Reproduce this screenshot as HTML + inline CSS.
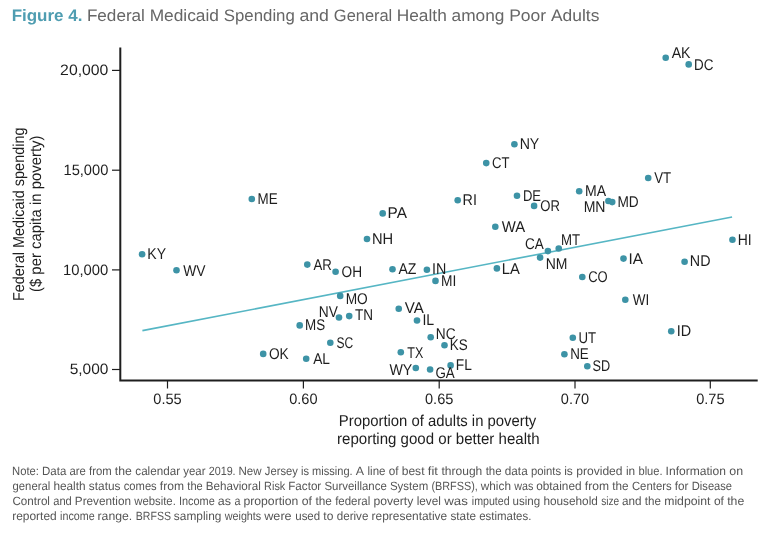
<!DOCTYPE html>
<html><head><meta charset="utf-8"><style>
html,body{margin:0;padding:0;background:#fff;}
svg{display:block;font-family:"Liberation Sans",sans-serif;will-change:transform;text-rendering:geometricPrecision;}
</style></head><body>
<svg width="768" height="534" viewBox="0 0 768 534">

<text x="11.66" y="20.80" font-size="16.6" textLength="70.75" lengthAdjust="spacingAndGlyphs" font-weight="bold" fill="#4f9db1">Figure 4.</text>
<g font-size="16.6" fill="#666"><text x="86.90" y="20.8" textLength="58.04" lengthAdjust="spacingAndGlyphs">Federal</text>
<text x="149.68" y="20.8" textLength="69.32" lengthAdjust="spacingAndGlyphs">Medicaid</text>
<text x="223.84" y="20.8" textLength="70.98" lengthAdjust="spacingAndGlyphs">Spending</text>
<text x="299.45" y="20.8" textLength="29.46" lengthAdjust="spacingAndGlyphs">and</text>
<text x="333.87" y="20.8" textLength="58.42" lengthAdjust="spacingAndGlyphs">General</text>
<text x="396.78" y="20.8" textLength="49.98" lengthAdjust="spacingAndGlyphs">Health</text>
<text x="451.57" y="20.8" textLength="52.82" lengthAdjust="spacingAndGlyphs">among</text>
<text x="509.17" y="20.8" textLength="36.94" lengthAdjust="spacingAndGlyphs">Poor</text>
<text x="550.97" y="20.8" textLength="48.41" lengthAdjust="spacingAndGlyphs">Adults</text></g>
<g stroke="#1e1e1e" stroke-width="1.2" fill="none">
<path d="M120.3 47.5 V380.4 H757.7" stroke-width="2"/>
<line x1="167.5" y1="380" x2="167.5" y2="388.5"/>
<line x1="303.4" y1="380" x2="303.4" y2="388.5"/>
<line x1="439.2" y1="380" x2="439.2" y2="388.5"/>
<line x1="575.0" y1="380" x2="575.0" y2="388.5"/>
<line x1="710.3" y1="380" x2="710.3" y2="388.5"/>
<line x1="112" y1="70.4" x2="120" y2="70.4"/>
<line x1="112" y1="170.2" x2="120" y2="170.2"/>
<line x1="112" y1="269.9" x2="120" y2="269.9"/>
<line x1="112" y1="369.5" x2="120" y2="369.5"/>
</g>
<g font-size="14.2" fill="#1e1e1e">
<text x="153.33" y="403.70" font-size="15" textLength="28.38" lengthAdjust="spacingAndGlyphs" >0.55</text>
<text x="289.23" y="403.70" font-size="15" textLength="28.34" lengthAdjust="spacingAndGlyphs" >0.60</text>
<text x="425.03" y="403.70" font-size="15" textLength="28.38" lengthAdjust="spacingAndGlyphs" >0.65</text>
<text x="560.83" y="403.70" font-size="15" textLength="28.34" lengthAdjust="spacingAndGlyphs" >0.70</text>
<text x="696.13" y="403.70" font-size="15" textLength="28.38" lengthAdjust="spacingAndGlyphs" >0.75</text>
<text x="60.11" y="75.30" font-size="15" textLength="48.31" lengthAdjust="spacingAndGlyphs" >20,000</text>
<text x="63.48" y="175.10" font-size="15" textLength="44.89" lengthAdjust="spacingAndGlyphs" >15,000</text>
<text x="62.97" y="274.80" font-size="15" textLength="45.41" lengthAdjust="spacingAndGlyphs" >10,000</text>
<text x="69.68" y="374.40" font-size="15" textLength="38.72" lengthAdjust="spacingAndGlyphs" >5,000</text>
</g>
<line x1="142.4" y1="330.6" x2="732.1" y2="217.0" stroke="#56b6c4" stroke-width="1.6"/>
<g fill="#3d93a6">
<circle cx="665.7" cy="57.8" r="3.3"/>
<circle cx="688.7" cy="64.4" r="3.3"/>
<circle cx="514.4" cy="144.2" r="3.3"/>
<circle cx="486.25" cy="163.1" r="3.3"/>
<circle cx="648.2" cy="178.0" r="3.3"/>
<circle cx="579.2" cy="191.3" r="3.3"/>
<circle cx="517.0" cy="195.7" r="3.3"/>
<circle cx="251.8" cy="199.0" r="3.3"/>
<circle cx="457.7" cy="200.2" r="3.3"/>
<circle cx="608.4" cy="201.0" r="3.3"/>
<circle cx="612.2" cy="202.1" r="3.3"/>
<circle cx="534.1" cy="205.9" r="3.3"/>
<circle cx="382.7" cy="213.4" r="3.3"/>
<circle cx="495.3" cy="226.8" r="3.3"/>
<circle cx="367.0" cy="239.0" r="3.3"/>
<circle cx="732.45" cy="239.8" r="3.3"/>
<circle cx="558.75" cy="248.5" r="3.3"/>
<circle cx="547.9" cy="251.1" r="3.3"/>
<circle cx="142.1" cy="254.2" r="3.3"/>
<circle cx="540.1" cy="257.6" r="3.3"/>
<circle cx="623.5" cy="258.6" r="3.3"/>
<circle cx="684.6" cy="261.7" r="3.3"/>
<circle cx="307.3" cy="264.6" r="3.3"/>
<circle cx="496.9" cy="268.4" r="3.3"/>
<circle cx="392.5" cy="269.2" r="3.3"/>
<circle cx="426.9" cy="269.7" r="3.3"/>
<circle cx="176.5" cy="270.3" r="3.3"/>
<circle cx="335.6" cy="271.7" r="3.3"/>
<circle cx="582.3" cy="277.0" r="3.3"/>
<circle cx="435.5" cy="280.9" r="3.3"/>
<circle cx="340.2" cy="295.9" r="3.3"/>
<circle cx="625.3" cy="299.8" r="3.3"/>
<circle cx="398.75" cy="308.7" r="3.3"/>
<circle cx="349.2" cy="316.1" r="3.3"/>
<circle cx="339.0" cy="317.5" r="3.3"/>
<circle cx="417.0" cy="320.5" r="3.3"/>
<circle cx="299.7" cy="325.4" r="3.3"/>
<circle cx="671.25" cy="331.25" r="3.3"/>
<circle cx="430.7" cy="337.3" r="3.3"/>
<circle cx="572.8" cy="337.8" r="3.3"/>
<circle cx="330.3" cy="342.8" r="3.3"/>
<circle cx="444.5" cy="345.3" r="3.3"/>
<circle cx="400.8" cy="352.3" r="3.3"/>
<circle cx="564.4" cy="354.2" r="3.3"/>
<circle cx="306.2" cy="358.7" r="3.3"/>
<circle cx="263.2" cy="353.9" r="3.3"/>
<circle cx="450.6" cy="365.4" r="3.3"/>
<circle cx="587.3" cy="366.2" r="3.3"/>
<circle cx="415.8" cy="368.0" r="3.3"/>
<circle cx="430.1" cy="369.5" r="3.3"/>
</g>
<g font-size="15.5" fill="#1e1e1e">
<text x="671.67" y="57.50" font-size="15.5" textLength="18.89" lengthAdjust="spacingAndGlyphs" >AK</text>
<text x="694.00" y="69.60" font-size="15.5" textLength="19.41" lengthAdjust="spacingAndGlyphs" >DC</text>
<text x="519.64" y="149.10" font-size="15.5" textLength="19.67" lengthAdjust="spacingAndGlyphs" >NY</text>
<text x="492.03" y="167.50" font-size="15.5" textLength="17.47" lengthAdjust="spacingAndGlyphs" >CT</text>
<text x="654.14" y="182.70" font-size="15.5" textLength="16.96" lengthAdjust="spacingAndGlyphs" >VT</text>
<text x="584.95" y="195.50" font-size="15.5" textLength="21.08" lengthAdjust="spacingAndGlyphs" >MA</text>
<text x="522.93" y="200.60" font-size="15.5" textLength="18.13" lengthAdjust="spacingAndGlyphs" >DE</text>
<text x="257.50" y="203.75" font-size="15.5" textLength="20.07" lengthAdjust="spacingAndGlyphs" >ME</text>
<text x="462.57" y="205.20" font-size="15.5" textLength="14.35" lengthAdjust="spacingAndGlyphs" >RI</text>
<text x="583.65" y="211.80" font-size="15.5" textLength="21.85" lengthAdjust="spacingAndGlyphs" >MN</text>
<text x="617.48" y="207.20" font-size="15.5" textLength="21.28" lengthAdjust="spacingAndGlyphs" >MD</text>
<text x="540.28" y="210.60" font-size="15.5" textLength="19.63" lengthAdjust="spacingAndGlyphs" >OR</text>
<text x="387.56" y="218.40" font-size="15.5" textLength="19.37" lengthAdjust="spacingAndGlyphs" >PA</text>
<text x="501.79" y="232.00" font-size="15.5" textLength="23.44" lengthAdjust="spacingAndGlyphs" >WA</text>
<text x="371.90" y="243.75" font-size="15.5" textLength="21.20" lengthAdjust="spacingAndGlyphs" >NH</text>
<text x="737.76" y="244.50" font-size="15.5" textLength="13.93" lengthAdjust="spacingAndGlyphs" >HI</text>
<text x="561.12" y="245.40" font-size="15.5" textLength="19.09" lengthAdjust="spacingAndGlyphs" >MT</text>
<text x="525.01" y="248.75" font-size="15.5" textLength="18.76" lengthAdjust="spacingAndGlyphs" >CA</text>
<text x="147.35" y="258.90" font-size="15.5" textLength="18.76" lengthAdjust="spacingAndGlyphs" >KY</text>
<text x="545.75" y="269.40" font-size="15.5" textLength="21.74" lengthAdjust="spacingAndGlyphs" >NM</text>
<text x="628.49" y="263.70" font-size="15.5" textLength="14.44" lengthAdjust="spacingAndGlyphs" >IA</text>
<text x="689.83" y="265.70" font-size="15.5" textLength="20.66" lengthAdjust="spacingAndGlyphs" >ND</text>
<text x="313.47" y="269.80" font-size="15.5" textLength="18.39" lengthAdjust="spacingAndGlyphs" >AR</text>
<text x="501.79" y="273.75" font-size="15.5" textLength="18.04" lengthAdjust="spacingAndGlyphs" >LA</text>
<text x="398.47" y="274.40" font-size="15.5" textLength="17.97" lengthAdjust="spacingAndGlyphs" >AZ</text>
<text x="432.08" y="274.40" font-size="15.5" textLength="14.28" lengthAdjust="spacingAndGlyphs" >IN</text>
<text x="183.14" y="275.70" font-size="15.5" textLength="22.32" lengthAdjust="spacingAndGlyphs" >WV</text>
<text x="341.55" y="276.70" font-size="15.5" textLength="20.46" lengthAdjust="spacingAndGlyphs" >OH</text>
<text x="588.24" y="281.90" font-size="15.5" textLength="19.48" lengthAdjust="spacingAndGlyphs" >CO</text>
<text x="440.97" y="285.90" font-size="15.5" textLength="15.30" lengthAdjust="spacingAndGlyphs" >MI</text>
<text x="345.68" y="304.00" font-size="15.5" textLength="22.08" lengthAdjust="spacingAndGlyphs" >MO</text>
<text x="632.69" y="304.80" font-size="15.5" textLength="16.45" lengthAdjust="spacingAndGlyphs" >WI</text>
<text x="404.74" y="313.20" font-size="15.5" textLength="19.04" lengthAdjust="spacingAndGlyphs" >VA</text>
<text x="355.10" y="320.40" font-size="15.5" textLength="18.00" lengthAdjust="spacingAndGlyphs" >TN</text>
<text x="318.77" y="316.60" font-size="15.5" textLength="19.09" lengthAdjust="spacingAndGlyphs" >NV</text>
<text x="422.45" y="325.30" font-size="15.5" textLength="11.77" lengthAdjust="spacingAndGlyphs" >IL</text>
<text x="305.10" y="330.10" font-size="15.5" textLength="20.12" lengthAdjust="spacingAndGlyphs" >MS</text>
<text x="676.77" y="335.70" font-size="15.5" textLength="14.42" lengthAdjust="spacingAndGlyphs" >ID</text>
<text x="435.78" y="339.10" font-size="15.5" textLength="19.74" lengthAdjust="spacingAndGlyphs" >NC</text>
<text x="578.48" y="342.75" font-size="15.5" textLength="17.62" lengthAdjust="spacingAndGlyphs" >UT</text>
<text x="336.45" y="348.00" font-size="15.5" textLength="16.70" lengthAdjust="spacingAndGlyphs" >SC</text>
<text x="449.80" y="350.20" font-size="15.5" textLength="17.92" lengthAdjust="spacingAndGlyphs" >KS</text>
<text x="407.32" y="357.60" font-size="15.5" textLength="15.99" lengthAdjust="spacingAndGlyphs" >TX</text>
<text x="570.20" y="358.50" font-size="15.5" textLength="18.57" lengthAdjust="spacingAndGlyphs" >NE</text>
<text x="313.17" y="363.60" font-size="15.5" textLength="16.78" lengthAdjust="spacingAndGlyphs" >AL</text>
<text x="268.95" y="358.80" font-size="15.5" textLength="19.80" lengthAdjust="spacingAndGlyphs" >OK</text>
<text x="455.87" y="370.10" font-size="15.5" textLength="16.03" lengthAdjust="spacingAndGlyphs" >FL</text>
<text x="592.62" y="370.60" font-size="15.5" textLength="17.69" lengthAdjust="spacingAndGlyphs" >SD</text>
<text x="389.44" y="374.90" font-size="15.5" textLength="22.87" lengthAdjust="spacingAndGlyphs" >WY</text>
<text x="435.43" y="377.70" font-size="15.5" textLength="19.30" lengthAdjust="spacingAndGlyphs" >GA</text>
</g>
<g fill="#1e1e1e">
<text transform="translate(23.60,301.09) rotate(-90)" font-size="15.8" textLength="173.62" lengthAdjust="spacingAndGlyphs" >Federal Medicaid spending</text>
<text transform="translate(41.30,292.02) rotate(-90)" font-size="15.8" textLength="156.45" lengthAdjust="spacingAndGlyphs" >($ per capita in poverty)</text>
<text x="338.78" y="425.60" font-size="15.8" textLength="197.55" lengthAdjust="spacingAndGlyphs" >Proportion of adults in poverty</text>
<text x="337.00" y="443.60" font-size="15.8" textLength="202.58" lengthAdjust="spacingAndGlyphs" >reporting good or better health</text>
</g>
<g fill="#555" font-size="12">
<text x="12.08" y="475.0" textLength="26.88" lengthAdjust="spacingAndGlyphs">Note:</text>
<text x="42.06" y="475.0" textLength="24.26" lengthAdjust="spacingAndGlyphs">Data</text>
<text x="69.52" y="475.0" textLength="16.37" lengthAdjust="spacingAndGlyphs">are</text>
<text x="89.04" y="475.0" textLength="22.64" lengthAdjust="spacingAndGlyphs">from</text>
<text x="114.81" y="475.0" textLength="17.06" lengthAdjust="spacingAndGlyphs">the</text>
<text x="135.30" y="475.0" textLength="44.73" lengthAdjust="spacingAndGlyphs">calendar</text>
<text x="183.27" y="475.0" textLength="22.19" lengthAdjust="spacingAndGlyphs">year</text>
<text x="208.66" y="475.0" textLength="26.96" lengthAdjust="spacingAndGlyphs">2019.</text>
<text x="238.55" y="475.0" textLength="23.06" lengthAdjust="spacingAndGlyphs">New</text>
<text x="264.82" y="475.0" textLength="33.01" lengthAdjust="spacingAndGlyphs">Jersey</text>
<text x="300.96" y="475.0" textLength="8.02" lengthAdjust="spacingAndGlyphs">is</text>
<text x="312.06" y="475.0" textLength="40.64" lengthAdjust="spacingAndGlyphs">missing.</text>
<text x="355.78" y="475.0" textLength="8.25" lengthAdjust="spacingAndGlyphs">A</text>
<text x="367.52" y="475.0" textLength="17.98" lengthAdjust="spacingAndGlyphs">line</text>
<text x="388.71" y="475.0" textLength="9.78" lengthAdjust="spacingAndGlyphs">of</text>
<text x="401.72" y="475.0" textLength="22.76" lengthAdjust="spacingAndGlyphs">best</text>
<text x="427.82" y="475.0" textLength="10.09" lengthAdjust="spacingAndGlyphs">fit</text>
<text x="441.52" y="475.0" textLength="40.76" lengthAdjust="spacingAndGlyphs">through</text>
<text x="485.63" y="475.0" textLength="15.99" lengthAdjust="spacingAndGlyphs">the</text>
<text x="504.81" y="475.0" textLength="22.87" lengthAdjust="spacingAndGlyphs">data</text>
<text x="530.97" y="475.0" textLength="30.13" lengthAdjust="spacingAndGlyphs">points</text>
<text x="564.20" y="475.0" textLength="8.69" lengthAdjust="spacingAndGlyphs">is</text>
<text x="576.22" y="475.0" textLength="46.32" lengthAdjust="spacingAndGlyphs">provided</text>
<text x="625.91" y="475.0" textLength="9.23" lengthAdjust="spacingAndGlyphs">in</text>
<text x="638.48" y="475.0" textLength="24.10" lengthAdjust="spacingAndGlyphs">blue.</text>
<text x="665.59" y="475.0" textLength="60.35" lengthAdjust="spacingAndGlyphs">Information</text>
<text x="729.28" y="475.0" textLength="13.83" lengthAdjust="spacingAndGlyphs">on</text>
<text x="12.52" y="489.9" textLength="37.75" lengthAdjust="spacingAndGlyphs">general</text>
<text x="53.38" y="489.9" textLength="32.21" lengthAdjust="spacingAndGlyphs">health</text>
<text x="88.87" y="489.9" textLength="31.54" lengthAdjust="spacingAndGlyphs">status</text>
<text x="123.72" y="489.9" textLength="33.00" lengthAdjust="spacingAndGlyphs">comes</text>
<text x="159.83" y="489.9" textLength="24.14" lengthAdjust="spacingAndGlyphs">from</text>
<text x="187.33" y="489.9" textLength="15.38" lengthAdjust="spacingAndGlyphs">the</text>
<text x="205.74" y="489.9" textLength="55.06" lengthAdjust="spacingAndGlyphs">Behavioral</text>
<text x="264.11" y="489.9" textLength="21.17" lengthAdjust="spacingAndGlyphs">Risk</text>
<text x="288.25" y="489.9" textLength="32.99" lengthAdjust="spacingAndGlyphs">Factor</text>
<text x="324.48" y="489.9" textLength="62.32" lengthAdjust="spacingAndGlyphs">Surveillance</text>
<text x="389.98" y="489.9" textLength="38.22" lengthAdjust="spacingAndGlyphs">System</text>
<text x="431.43" y="489.9" textLength="46.38" lengthAdjust="spacingAndGlyphs">(BRFSS),</text>
<text x="480.82" y="489.9" textLength="30.13" lengthAdjust="spacingAndGlyphs">which</text>
<text x="514.22" y="489.9" textLength="19.06" lengthAdjust="spacingAndGlyphs">was</text>
<text x="536.20" y="489.9" textLength="45.35" lengthAdjust="spacingAndGlyphs">obtained</text>
<text x="584.83" y="489.9" textLength="24.14" lengthAdjust="spacingAndGlyphs">from</text>
<text x="612.32" y="489.9" textLength="16.32" lengthAdjust="spacingAndGlyphs">the</text>
<text x="631.92" y="489.9" textLength="39.76" lengthAdjust="spacingAndGlyphs">Centers</text>
<text x="674.83" y="489.9" textLength="13.65" lengthAdjust="spacingAndGlyphs">for</text>
<text x="691.78" y="489.9" textLength="40.31" lengthAdjust="spacingAndGlyphs">Disease</text>
<text x="12.41" y="504.5" textLength="37.56" lengthAdjust="spacingAndGlyphs">Control</text>
<text x="53.23" y="504.5" textLength="18.57" lengthAdjust="spacingAndGlyphs">and</text>
<text x="74.84" y="504.5" textLength="56.12" lengthAdjust="spacingAndGlyphs">Prevention</text>
<text x="134.22" y="504.5" textLength="41.59" lengthAdjust="spacingAndGlyphs">website.</text>
<text x="178.99" y="504.5" textLength="35.81" lengthAdjust="spacingAndGlyphs">Income</text>
<text x="217.77" y="504.5" textLength="13.22" lengthAdjust="spacingAndGlyphs">as</text>
<text x="234.54" y="504.5" textLength="5.98" lengthAdjust="spacingAndGlyphs">a</text>
<text x="243.41" y="504.5" textLength="54.98" lengthAdjust="spacingAndGlyphs">proportion</text>
<text x="301.79" y="504.5" textLength="10.22" lengthAdjust="spacingAndGlyphs">of</text>
<text x="315.42" y="504.5" textLength="16.43" lengthAdjust="spacingAndGlyphs">the</text>
<text x="335.14" y="504.5" textLength="35.13" lengthAdjust="spacingAndGlyphs">federal</text>
<text x="373.42" y="504.5" textLength="39.89" lengthAdjust="spacingAndGlyphs">poverty</text>
<text x="416.71" y="504.5" textLength="24.24" lengthAdjust="spacingAndGlyphs">level</text>
<text x="444.22" y="504.5" textLength="23.69" lengthAdjust="spacingAndGlyphs">was</text>
<text x="471.79" y="504.5" textLength="37.86" lengthAdjust="spacingAndGlyphs">imputed</text>
<text x="512.55" y="504.5" textLength="27.64" lengthAdjust="spacingAndGlyphs">using</text>
<text x="543.38" y="504.5" textLength="54.51" lengthAdjust="spacingAndGlyphs">household</text>
<text x="601.22" y="504.5" textLength="18.03" lengthAdjust="spacingAndGlyphs">size</text>
<text x="622.00" y="504.5" textLength="19.56" lengthAdjust="spacingAndGlyphs">and</text>
<text x="644.82" y="504.5" textLength="16.17" lengthAdjust="spacingAndGlyphs">the</text>
<text x="664.19" y="504.5" textLength="46.30" lengthAdjust="spacingAndGlyphs">midpoint</text>
<text x="713.90" y="504.5" textLength="9.99" lengthAdjust="spacingAndGlyphs">of</text>
<text x="727.21" y="504.5" textLength="17.08" lengthAdjust="spacingAndGlyphs">the</text>
<text x="12.21" y="519.5" textLength="44.48" lengthAdjust="spacingAndGlyphs">reported</text>
<text x="60.08" y="519.5" textLength="34.53" lengthAdjust="spacingAndGlyphs">income</text>
<text x="97.49" y="519.5" textLength="34.80" lengthAdjust="spacingAndGlyphs">range.</text>
<text x="135.84" y="519.5" textLength="35.14" lengthAdjust="spacingAndGlyphs">BRFSS</text>
<text x="173.87" y="519.5" textLength="47.55" lengthAdjust="spacingAndGlyphs">sampling</text>
<text x="224.72" y="519.5" textLength="36.51" lengthAdjust="spacingAndGlyphs">weights</text>
<text x="264.22" y="519.5" textLength="27.44" lengthAdjust="spacingAndGlyphs">were</text>
<text x="295.25" y="519.5" textLength="24.88" lengthAdjust="spacingAndGlyphs">used</text>
<text x="323.32" y="519.5" textLength="10.03" lengthAdjust="spacingAndGlyphs">to</text>
<text x="336.71" y="519.5" textLength="31.68" lengthAdjust="spacingAndGlyphs">derive</text>
<text x="371.61" y="519.5" textLength="75.55" lengthAdjust="spacingAndGlyphs">representative</text>
<text x="450.47" y="519.5" textLength="25.46" lengthAdjust="spacingAndGlyphs">state</text>
<text x="479.21" y="519.5" textLength="52.13" lengthAdjust="spacingAndGlyphs">estimates.</text>
</g>
</svg>
</body></html>
